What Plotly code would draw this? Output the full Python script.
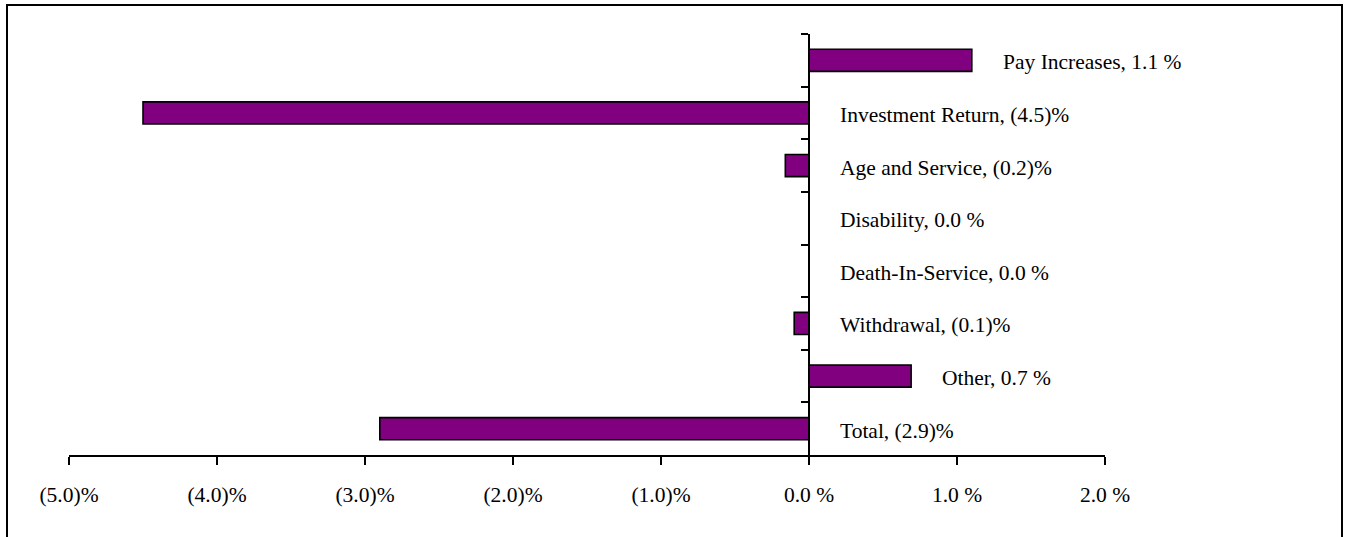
import plotly.graph_objects as go

# ---- data ----
categories = ["Pay Increases", "Investment Return", "Age and Service", "Disability",
              "Death-In-Service", "Withdrawal", "Other", "Total"]
values = [1.1, -4.5, -0.16, 0.0, 0.0, -0.1, 0.69, -2.9]
x_tick_values = [-5, -4, -3, -2, -1, 0, 1, 2]


def fmt(v):
    if round(v, 1) < 0:
        return "({:.1f})%".format(abs(v))
    return "{:.1f} %".format(abs(v))


x_tick_text = [fmt(v) for v in x_tick_values]
label_text = ["{}, {}".format(c, fmt(v)) for c, v in zip(categories, values)]

FONT = "Liberation Serif, Times New Roman, serif"
W, H = 1347, 537
L, R, T, B = 69, 1105, 34, 455
XMIN, XMAX = -5, 2

fig = go.Figure()
fig.add_trace(go.Bar(
    x=values, y=categories, orientation="h",
    marker=dict(color="#800080", line=dict(color="black", width=1.6)),
    width=0.42, hoverinfo="skip",
))

for c, v, t in zip(categories, values, label_text):
    fig.add_annotation(x=max(v, 0), y=c, xref="x", yref="y", text=t,
                       showarrow=False, xanchor="left", yanchor="middle",
                       xshift=29, yshift=-2,
                       font=dict(family=FONT, size=21.5, color="black"))

pw, ph = R - L, B - T
fig.add_shape(type="rect", xref="paper", yref="paper",
              x0=(7 - L) / pw, x1=(1342 - L) / pw,
              y0=(B - 560) / ph, y1=(B - 5) / ph,
              line=dict(color="black", width=2), fillcolor="rgba(0,0,0,0)",
              layer="above")

fig.update_layout(
    width=W, height=H,
    margin=dict(l=L, r=W - R, t=T, b=H - B, pad=0),
    paper_bgcolor="white", plot_bgcolor="white",
    showlegend=False, bargap=0.58,
    font=dict(family=FONT, size=21.5, color="black"),
    xaxis=dict(range=[XMIN, XMAX], autorange=False, tickvals=x_tick_values,
               ticktext=x_tick_text, showgrid=False, zeroline=False,
               showline=True, linecolor="black", linewidth=2,
               ticks="outside", ticklen=8, tickwidth=2, tickcolor="black",
               ticklabelstandoff=11, fixedrange=True),
    yaxis=dict(categoryorder="array", categoryarray=categories,
               autorange="reversed", anchor="free",
               position=(0 - XMIN) / (XMAX - XMIN),
               showgrid=False, zeroline=False, showline=True,
               linecolor="black", linewidth=2, ticks="outside",
               tickson="boundaries", ticklen=7, tickwidth=2,
               tickcolor="black", showticklabels=False, fixedrange=True),
)

fig.write_html("out.html")
